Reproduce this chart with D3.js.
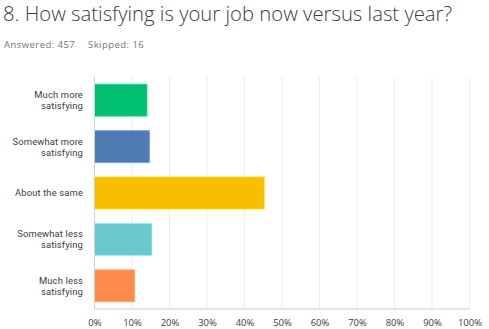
<!DOCTYPE html>
<html>
<head>
<meta charset="utf-8">
<script src="https://cdn.jsdelivr.net/npm/d3@7"></script>
<style>
  html, body { margin: 0; padding: 0; background: #fff; }
  svg { display: block; font-family: "Open Sans", "Noto Sans", sans-serif; }
</style>
</head>
<body>
<svg id="chart" width="489" height="329"></svg>
<script>
// Survey question 8: share of respondents per answer choice
const categories = [
  ["Much more", "satisfying"],
  ["Somewhat more", "satisfying"],
  ["About the same"],
  ["Somewhat less", "satisfying"],
  ["Much less", "satisfying"]
];
const responses = [64, 67, 207, 70, 49];
const answered = 457;
const skipped = 16;
const percents = responses.map(r => r / answered * 100);
const colors = ["#00bf6f", "#507cb6", "#f9be00", "#6bc8cd", "#ff8b4f"];
const tickValues = [0, 10, 20, 30, 40, 50, 60, 70, 80, 90, 100];

const svg = d3.select("#chart");

svg.append("text")
  .attr("x", 3).attr("y", 21)
  .attr("font-size", 20.3).attr("font-weight", 300)
  .attr("fill", "#333e48")
  .text("8. How satisfying is your job now versus last year?");

svg.append("text")
  .attr("x", 4).attr("y", 47.5)
  .attr("font-size", 9.5).attr("letter-spacing", 0.45).attr("fill", "#6b787f")
  .text(`Answered: ${answered}`);
svg.append("text")
  .attr("x", 88).attr("y", 47.5)
  .attr("font-size", 9.5).attr("letter-spacing", 0.45).attr("fill", "#6b787f")
  .text(`Skipped: ${skipped}`);

const plot = { left: 94.5, right: 469.5, top: 77, bottom: 309 };

const x = d3.scaleLinear().domain([0, 100]).range([plot.left, plot.right]);
const y = d3.scaleBand()
  .domain(d3.range(categories.length))
  .range([plot.top, plot.bottom])
  .paddingInner(0.31).paddingOuter(0.155);

// vertical gridlines
svg.append("g").selectAll("line")
  .data(tickValues.slice(1))
  .join("line")
  .attr("x1", d => x(d)).attr("x2", d => x(d))
  .attr("y1", plot.top).attr("y2", plot.bottom)
  .attr("stroke", "#ececec").attr("stroke-width", 1);

// bars
svg.append("g").selectAll("rect")
  .data(percents)
  .join("rect")
  .attr("x", x(0))
  .attr("y", (d, i) => y(i))
  .attr("width", d => x(d) - x(0))
  .attr("height", y.bandwidth())
  .attr("fill", (d, i) => colors[i])
  .attr("stroke", (d, i) => d3.color(colors[i]).brighter(0.6))
  .attr("stroke-opacity", 0.7)
  .attr("stroke-width", 1);

// axis lines
svg.append("line")
  .attr("x1", plot.left).attr("x2", plot.left)
  .attr("y1", plot.top).attr("y2", plot.bottom)
  .attr("stroke", "#d0d0d0");
svg.append("line")
  .attr("x1", plot.left).attr("x2", plot.right)
  .attr("y1", plot.bottom).attr("y2", plot.bottom)
  .attr("stroke", "#d0d0d0");

// x tick labels
const xAxis = d3.axisBottom(x).tickValues(tickValues).tickFormat(d => d + "%").tickSize(0).tickPadding(0);
const gx = svg.append("g").attr("transform", `translate(0,${plot.bottom})`).call(xAxis);
gx.select(".domain").remove();
gx.selectAll("text")
  .attr("y", 16.5).attr("dy", 0)
  .attr("font-size", 9.5).attr("fill", "#333e48")
  .attr("font-family", "Open Sans, Noto Sans, sans-serif");

// category labels, one text per wrapped line
const lineH = 11;
const labelRows = categories.flatMap((lines, i) => {
  const cy = y(i) + y.bandwidth() / 2;
  const startY = cy - (lines.length - 1) * lineH / 2 + 3.4;
  return lines.map((t, j) => ({ t, yy: startY + j * lineH }));
});
svg.append("g").selectAll("text")
  .data(labelRows)
  .join("text")
  .attr("x", 83)
  .attr("y", d => d.yy)
  .attr("text-anchor", "end")
  .attr("font-family", "Roboto, sans-serif")
  .attr("font-size", 9.4)
  .attr("letter-spacing", 0.15)
  .attr("fill", "#333e48")
  .text(d => d.t);
</script>
</body>
</html>
